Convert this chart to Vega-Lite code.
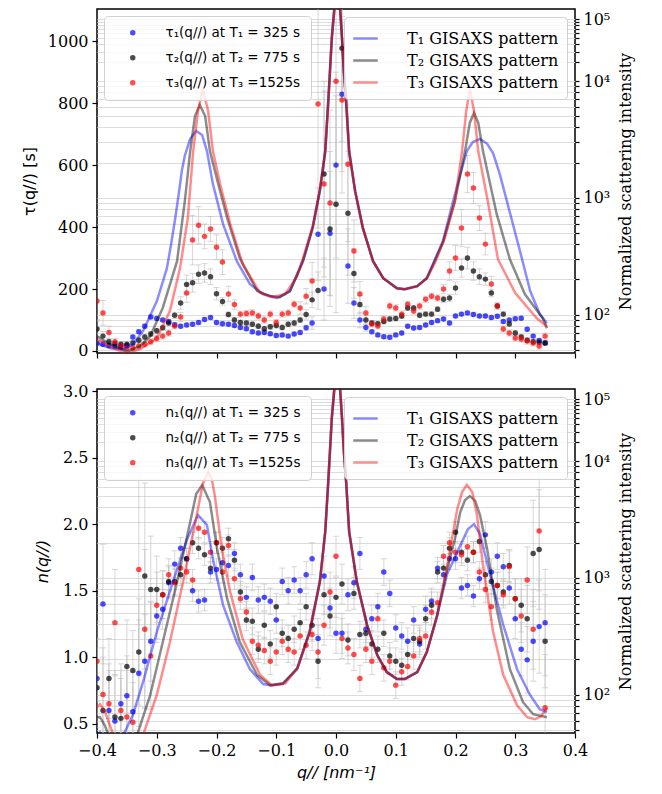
{
"$schema":"https://vega.github.io/schema/vega-lite/v6.json",
"padding":{"left":20,"top":8,"right":5,"bottom":5},
"spacing":22,
"config":{
 "view":{"stroke":"#000000","strokeWidth":1.5},
 "axis":{"labelFont":"DejaVu Serif","labelFontSize":16,"labelColor":"#000000","tickColor":"#000000","tickSize":5,"tickWidth":1.2,"domain":false,"grid":false,"titleFont":"DejaVu Sans","titleFontSize":16,"titleFontWeight":"normal","titleColor":"#000000","labelPadding":4,"labelFlush":false}
},
"datasets":{
"tau":[
{"q":-0.4,"s":"1","v":25,"e":8},{"q":-0.39,"s":"1","v":22,"e":8},{"q":-0.38,"s":"1","v":18,"e":6},{"q":-0.37,"s":"1","v":15,"e":6},{"q":-0.36,"s":"1","v":14,"e":6},{"q":-0.35,"s":"1","v":18,"e":6},{"q":-0.34,"s":"1","v":45,"e":6},{"q":-0.33,"s":"1","v":62,"e":6},{"q":-0.32,"s":"1","v":80,"e":6},{"q":-0.31,"s":"1","v":110,"e":6},{"q":-0.3,"s":"1","v":105,"e":6},{"q":-0.29,"s":"1","v":100,"e":6},{"q":-0.28,"s":"1","v":95,"e":6},{"q":-0.27,"s":"1","v":85,"e":6},{"q":-0.26,"s":"1","v":80,"e":6},{"q":-0.25,"s":"1","v":84,"e":6},{"q":-0.24,"s":"1","v":86,"e":6},{"q":-0.23,"s":"1","v":92,"e":6},{"q":-0.22,"s":"1","v":102,"e":6},{"q":-0.21,"s":"1","v":108,"e":6},{"q":-0.2,"s":"1","v":92,"e":6},{"q":-0.19,"s":"1","v":88,"e":6},{"q":-0.18,"s":"1","v":86,"e":6},{"q":-0.17,"s":"1","v":82,"e":6},{"q":-0.16,"s":"1","v":76,"e":6},{"q":-0.15,"s":"1","v":72,"e":6},{"q":-0.14,"s":"1","v":62,"e":6},{"q":-0.13,"s":"1","v":58,"e":6},{"q":-0.12,"s":"1","v":60,"e":6},{"q":-0.11,"s":"1","v":56,"e":6},{"q":-0.1,"s":"1","v":50,"e":6},{"q":-0.09,"s":"1","v":52,"e":6},{"q":-0.08,"s":"1","v":48,"e":6},{"q":-0.07,"s":"1","v":55,"e":6},{"q":-0.06,"s":"1","v":60,"e":6},{"q":-0.05,"s":"1","v":75,"e":8},{"q":-0.04,"s":"1","v":90,"e":20},{"q":-0.03,"s":"1","v":377,"e":150},{"q":-0.02,"s":"1","v":200,"e":100},{"q":-0.01,"s":"1","v":380,"e":200},{"q":0,"s":"1","v":600,"e":300},{"q":0.01,"s":"1","v":829,"e":250},{"q":0.02,"s":"1","v":274,"e":120},{"q":0.03,"s":"1","v":155,"e":50},{"q":0.04,"s":"1","v":100,"e":25},{"q":0.05,"s":"1","v":76,"e":12},{"q":0.06,"s":"1","v":62,"e":6},{"q":0.07,"s":"1","v":52,"e":6},{"q":0.08,"s":"1","v":46,"e":6},{"q":0.09,"s":"1","v":44,"e":6},{"q":0.1,"s":"1","v":52,"e":6},{"q":0.11,"s":"1","v":58,"e":6},{"q":0.12,"s":"1","v":80,"e":6},{"q":0.13,"s":"1","v":74,"e":6},{"q":0.14,"s":"1","v":76,"e":6},{"q":0.15,"s":"1","v":84,"e":6},{"q":0.16,"s":"1","v":92,"e":6},{"q":0.17,"s":"1","v":98,"e":6},{"q":0.18,"s":"1","v":103,"e":6},{"q":0.19,"s":"1","v":90,"e":6},{"q":0.2,"s":"1","v":113,"e":6},{"q":0.21,"s":"1","v":119,"e":6},{"q":0.22,"s":"1","v":123,"e":6},{"q":0.23,"s":"1","v":118,"e":6},{"q":0.24,"s":"1","v":113,"e":6},{"q":0.25,"s":"1","v":113,"e":6},{"q":0.26,"s":"1","v":108,"e":6},{"q":0.27,"s":"1","v":112,"e":6},{"q":0.28,"s":"1","v":95,"e":6},{"q":0.29,"s":"1","v":100,"e":6},{"q":0.3,"s":"1","v":104,"e":6},{"q":0.31,"s":"1","v":106,"e":6},{"q":0.32,"s":"1","v":70,"e":6},{"q":0.33,"s":"1","v":48,"e":6},{"q":0.34,"s":"1","v":34,"e":6},{"q":0.35,"s":"1","v":26,"e":6},
{"q":-0.4,"s":"2","v":71,"e":25},{"q":-0.39,"s":"2","v":48,"e":15},{"q":-0.38,"s":"2","v":30,"e":8},{"q":-0.37,"s":"2","v":24,"e":8},{"q":-0.36,"s":"2","v":22,"e":8},{"q":-0.35,"s":"2","v":22,"e":8},{"q":-0.34,"s":"2","v":26,"e":8},{"q":-0.33,"s":"2","v":35,"e":8},{"q":-0.32,"s":"2","v":45,"e":8},{"q":-0.31,"s":"2","v":55,"e":8},{"q":-0.3,"s":"2","v":65,"e":8},{"q":-0.29,"s":"2","v":75,"e":8},{"q":-0.28,"s":"2","v":90,"e":8},{"q":-0.27,"s":"2","v":115,"e":10},{"q":-0.26,"s":"2","v":155,"e":20},{"q":-0.25,"s":"2","v":215,"e":30},{"q":-0.24,"s":"2","v":220,"e":30},{"q":-0.23,"s":"2","v":248,"e":30},{"q":-0.22,"s":"2","v":252,"e":30},{"q":-0.21,"s":"2","v":240,"e":25},{"q":-0.2,"s":"2","v":185,"e":20},{"q":-0.19,"s":"2","v":160,"e":12},{"q":-0.18,"s":"2","v":118,"e":8},{"q":-0.17,"s":"2","v":100,"e":8},{"q":-0.16,"s":"2","v":92,"e":8},{"q":-0.15,"s":"2","v":90,"e":8},{"q":-0.14,"s":"2","v":86,"e":8},{"q":-0.13,"s":"2","v":80,"e":8},{"q":-0.12,"s":"2","v":72,"e":8},{"q":-0.11,"s":"2","v":78,"e":8},{"q":-0.1,"s":"2","v":82,"e":8},{"q":-0.09,"s":"2","v":76,"e":8},{"q":-0.08,"s":"2","v":86,"e":8},{"q":-0.07,"s":"2","v":90,"e":8},{"q":-0.06,"s":"2","v":100,"e":8},{"q":-0.05,"s":"2","v":118,"e":15},{"q":-0.04,"s":"2","v":165,"e":25},{"q":-0.03,"s":"2","v":195,"e":60},{"q":-0.02,"s":"2","v":571,"e":300},{"q":-0.01,"s":"2","v":394,"e":250},{"q":0,"s":"2","v":474,"e":350},{"q":0.01,"s":"2","v":977,"e":300},{"q":0.02,"s":"2","v":445,"e":200},{"q":0.03,"s":"2","v":250,"e":80},{"q":0.04,"s":"2","v":150,"e":30},{"q":0.05,"s":"2","v":100,"e":15},{"q":0.06,"s":"2","v":90,"e":8},{"q":0.07,"s":"2","v":88,"e":8},{"q":0.08,"s":"2","v":95,"e":8},{"q":0.09,"s":"2","v":103,"e":8},{"q":0.1,"s":"2","v":105,"e":8},{"q":0.11,"s":"2","v":113,"e":8},{"q":0.12,"s":"2","v":139,"e":8},{"q":0.13,"s":"2","v":139,"e":8},{"q":0.14,"s":"2","v":115,"e":8},{"q":0.15,"s":"2","v":119,"e":8},{"q":0.16,"s":"2","v":119,"e":8},{"q":0.17,"s":"2","v":135,"e":8},{"q":0.18,"s":"2","v":167,"e":10},{"q":0.19,"s":"2","v":171,"e":12},{"q":0.2,"s":"2","v":203,"e":20},{"q":0.21,"s":"2","v":268,"e":30},{"q":0.22,"s":"2","v":300,"e":35},{"q":0.23,"s":"2","v":258,"e":30},{"q":0.24,"s":"2","v":240,"e":25},{"q":0.25,"s":"2","v":232,"e":20},{"q":0.26,"s":"2","v":187,"e":12},{"q":0.27,"s":"2","v":145,"e":10},{"q":0.28,"s":"2","v":119,"e":8},{"q":0.29,"s":"2","v":87,"e":8},{"q":0.3,"s":"2","v":58,"e":8},{"q":0.31,"s":"2","v":45,"e":8},{"q":0.32,"s":"2","v":35,"e":8},{"q":0.33,"s":"2","v":30,"e":8},{"q":0.34,"s":"2","v":28,"e":8},{"q":0.35,"s":"2","v":26,"e":8},
{"q":-0.4,"s":"3","v":161,"e":60},{"q":-0.39,"s":"3","v":123,"e":40},{"q":-0.38,"s":"3","v":60,"e":20},{"q":-0.37,"s":"3","v":30,"e":10},{"q":-0.36,"s":"3","v":15,"e":10},{"q":-0.35,"s":"3","v":10,"e":10},{"q":-0.34,"s":"3","v":10,"e":10},{"q":-0.33,"s":"3","v":16,"e":10},{"q":-0.32,"s":"3","v":22,"e":10},{"q":-0.31,"s":"3","v":30,"e":10},{"q":-0.3,"s":"3","v":40,"e":10},{"q":-0.29,"s":"3","v":48,"e":10},{"q":-0.28,"s":"3","v":58,"e":10},{"q":-0.27,"s":"3","v":81,"e":10},{"q":-0.26,"s":"3","v":110,"e":15},{"q":-0.25,"s":"3","v":187,"e":30},{"q":-0.24,"s":"3","v":358,"e":80},{"q":-0.23,"s":"3","v":406,"e":60},{"q":-0.22,"s":"3","v":370,"e":40},{"q":-0.21,"s":"3","v":394,"e":40},{"q":-0.2,"s":"3","v":335,"e":40},{"q":-0.19,"s":"3","v":287,"e":40},{"q":-0.18,"s":"3","v":184,"e":25},{"q":-0.17,"s":"3","v":150,"e":15},{"q":-0.16,"s":"3","v":119,"e":10},{"q":-0.15,"s":"3","v":121,"e":10},{"q":-0.14,"s":"3","v":123,"e":10},{"q":-0.13,"s":"3","v":113,"e":10},{"q":-0.12,"s":"3","v":100,"e":10},{"q":-0.11,"s":"3","v":119,"e":10},{"q":-0.1,"s":"3","v":92,"e":10},{"q":-0.09,"s":"3","v":119,"e":10},{"q":-0.08,"s":"3","v":123,"e":10},{"q":-0.07,"s":"3","v":151,"e":10},{"q":-0.06,"s":"3","v":139,"e":20},{"q":-0.05,"s":"3","v":177,"e":25},{"q":-0.04,"s":"3","v":226,"e":60},{"q":-0.03,"s":"3","v":797,"e":400},{"q":-0.02,"s":"3","v":539,"e":300},{"q":-0.01,"s":"3","v":478,"e":300},{"q":0,"s":"3","v":871,"e":400},{"q":0.01,"s":"3","v":810,"e":300},{"q":0.02,"s":"3","v":603,"e":250},{"q":0.03,"s":"3","v":323,"e":100},{"q":0.04,"s":"3","v":184,"e":40},{"q":0.05,"s":"3","v":123,"e":20},{"q":0.06,"s":"3","v":87,"e":10},{"q":0.07,"s":"3","v":81,"e":10},{"q":0.08,"s":"3","v":103,"e":10},{"q":0.09,"s":"3","v":145,"e":10},{"q":0.1,"s":"3","v":139,"e":10},{"q":0.11,"s":"3","v":119,"e":10},{"q":0.12,"s":"3","v":151,"e":10},{"q":0.13,"s":"3","v":129,"e":10},{"q":0.14,"s":"3","v":145,"e":10},{"q":0.15,"s":"3","v":167,"e":10},{"q":0.16,"s":"3","v":177,"e":10},{"q":0.17,"s":"3","v":171,"e":10},{"q":0.18,"s":"3","v":200,"e":15},{"q":0.19,"s":"3","v":258,"e":30},{"q":0.2,"s":"3","v":300,"e":40},{"q":0.21,"s":"3","v":397,"e":60},{"q":0.22,"s":"3","v":571,"e":60},{"q":0.23,"s":"3","v":526,"e":50},{"q":0.24,"s":"3","v":429,"e":40},{"q":0.25,"s":"3","v":345,"e":35},{"q":0.26,"s":"3","v":216,"e":25},{"q":0.27,"s":"3","v":145,"e":10},{"q":0.28,"s":"3","v":71,"e":10},{"q":0.29,"s":"3","v":58,"e":10},{"q":0.3,"s":"3","v":42,"e":10},{"q":0.31,"s":"3","v":39,"e":10},{"q":0.32,"s":"3","v":32,"e":10},{"q":0.33,"s":"3","v":26,"e":10},{"q":0.34,"s":"3","v":16,"e":10},{"q":0.35,"s":"3","v":48,"e":10}
],
"nq":[
{"q":-0.4,"s":"1","v":0.84,"e":0.3},{"q":-0.39,"s":"1","v":1.4,"e":0.45},{"q":-0.38,"s":"1","v":0.6,"e":0.3},{"q":-0.37,"s":"1","v":0.52,"e":0.35},{"q":-0.36,"s":"1","v":0.65,"e":0.3},{"q":-0.35,"s":"1","v":0.71,"e":0.3},{"q":-0.34,"s":"1","v":0.59,"e":0.3},{"q":-0.33,"s":"1","v":0.88,"e":0.4},{"q":-0.32,"s":"1","v":0.97,"e":0.35},{"q":-0.31,"s":"1","v":1.12,"e":0.3},{"q":-0.3,"s":"1","v":1.31,"e":0.2},{"q":-0.29,"s":"1","v":1.36,"e":0.15},{"q":-0.28,"s":"1","v":1.56,"e":0.12},{"q":-0.27,"s":"1","v":1.7,"e":0.1},{"q":-0.26,"s":"1","v":1.82,"e":0.08},{"q":-0.25,"s":"1","v":1.74,"e":0.08},{"q":-0.24,"s":"1","v":1.5,"e":0.08},{"q":-0.23,"s":"1","v":1.42,"e":0.08},{"q":-0.22,"s":"1","v":1.43,"e":0.08},{"q":-0.21,"s":"1","v":1.64,"e":0.08},{"q":-0.2,"s":"1","v":1.66,"e":0.08},{"q":-0.19,"s":"1","v":1.71,"e":0.08},{"q":-0.18,"s":"1","v":1.69,"e":0.08},{"q":-0.17,"s":"1","v":1.78,"e":0.08},{"q":-0.16,"s":"1","v":1.62,"e":0.08},{"q":-0.15,"s":"1","v":1.45,"e":0.08},{"q":-0.14,"s":"1","v":1.6,"e":0.1},{"q":-0.13,"s":"1","v":1.43,"e":0.1},{"q":-0.12,"s":"1","v":1.45,"e":0.1},{"q":-0.11,"s":"1","v":1.42,"e":0.1},{"q":-0.1,"s":"1","v":1.28,"e":0.1},{"q":-0.09,"s":"1","v":1.57,"e":0.1},{"q":-0.08,"s":"1","v":1.5,"e":0.1},{"q":-0.07,"s":"1","v":1.58,"e":0.1},{"q":-0.06,"s":"1","v":1.5,"e":0.1},{"q":-0.05,"s":"1","v":1.62,"e":0.1},{"q":-0.04,"s":"1","v":1.74,"e":0.12},{"q":-0.03,"s":"1","v":1.14,"e":0.15},{"q":-0.02,"s":"1","v":1.61,"e":0.15},{"q":-0.01,"s":"1","v":1.37,"e":0.15},{"q":0,"s":"1","v":1.18,"e":0.15},{"q":0.01,"s":"1","v":1.18,"e":0.15},{"q":0.02,"s":"1","v":1.47,"e":0.12},{"q":0.03,"s":"1","v":1.56,"e":0.12},{"q":0.04,"s":"1","v":1.78,"e":0.12},{"q":0.05,"s":"1","v":1.21,"e":0.1},{"q":0.06,"s":"1","v":1.29,"e":0.1},{"q":0.07,"s":"1","v":1.38,"e":0.1},{"q":0.08,"s":"1","v":1.64,"e":0.1},{"q":0.09,"s":"1","v":1.48,"e":0.1},{"q":0.1,"s":"1","v":1.22,"e":0.1},{"q":0.11,"s":"1","v":1.16,"e":0.1},{"q":0.12,"s":"1","v":1.12,"e":0.1},{"q":0.13,"s":"1","v":1.28,"e":0.1},{"q":0.14,"s":"1","v":1.1,"e":0.1},{"q":0.15,"s":"1","v":1.36,"e":0.1},{"q":0.16,"s":"1","v":1.42,"e":0.1},{"q":0.17,"s":"1","v":1.67,"e":0.08},{"q":0.18,"s":"1","v":1.62,"e":0.08},{"q":0.19,"s":"1","v":1.74,"e":0.08},{"q":0.2,"s":"1","v":1.74,"e":0.08},{"q":0.21,"s":"1","v":1.52,"e":0.08},{"q":0.22,"s":"1","v":1.54,"e":0.08},{"q":0.23,"s":"1","v":1.46,"e":0.08},{"q":0.24,"s":"1","v":1.59,"e":0.08},{"q":0.25,"s":"1","v":1.92,"e":0.1},{"q":0.26,"s":"1","v":1.64,"e":0.1},{"q":0.27,"s":"1","v":1.76,"e":0.1},{"q":0.28,"s":"1","v":1.68,"e":0.1},{"q":0.29,"s":"1","v":1.52,"e":0.12},{"q":0.3,"s":"1","v":1.29,"e":0.15},{"q":0.31,"s":"1","v":1.06,"e":0.2},{"q":0.32,"s":"1","v":0.98,"e":0.25},{"q":0.33,"s":"1","v":1.12,"e":0.3},{"q":0.34,"s":"1","v":1.23,"e":0.35},{"q":0.35,"s":"1","v":1.26,"e":0.4},
{"q":-0.4,"s":"2","v":0.77,"e":0.3},{"q":-0.39,"s":"2","v":0.6,"e":0.4},{"q":-0.38,"s":"2","v":0.84,"e":0.3},{"q":-0.37,"s":"2","v":0.55,"e":0.35},{"q":-0.36,"s":"2","v":0.54,"e":0.3},{"q":-0.35,"s":"2","v":0.93,"e":0.35},{"q":-0.34,"s":"2","v":0.9,"e":0.3},{"q":-0.33,"s":"2","v":1.04,"e":0.4},{"q":-0.32,"s":"2","v":1.61,"e":0.7},{"q":-0.31,"s":"2","v":1.51,"e":0.4},{"q":-0.3,"s":"2","v":1.51,"e":0.25},{"q":-0.29,"s":"2","v":1.47,"e":0.18},{"q":-0.28,"s":"2","v":1.57,"e":0.12},{"q":-0.27,"s":"2","v":1.57,"e":0.1},{"q":-0.26,"s":"2","v":1.62,"e":0.08},{"q":-0.25,"s":"2","v":1.74,"e":0.08},{"q":-0.24,"s":"2","v":1.86,"e":0.08},{"q":-0.23,"s":"2","v":1.82,"e":0.08},{"q":-0.22,"s":"2","v":1.77,"e":0.08},{"q":-0.21,"s":"2","v":1.67,"e":0.08},{"q":-0.2,"s":"2","v":1.86,"e":0.08},{"q":-0.19,"s":"2","v":1.82,"e":0.08},{"q":-0.18,"s":"2","v":1.89,"e":0.08},{"q":-0.17,"s":"2","v":1.73,"e":0.08},{"q":-0.16,"s":"2","v":1.49,"e":0.08},{"q":-0.15,"s":"2","v":1.28,"e":0.08},{"q":-0.14,"s":"2","v":1.27,"e":0.1},{"q":-0.13,"s":"2","v":1.06,"e":0.1},{"q":-0.12,"s":"2","v":1.24,"e":0.1},{"q":-0.11,"s":"2","v":1.1,"e":0.1},{"q":-0.1,"s":"2","v":1.38,"e":0.1},{"q":-0.09,"s":"2","v":1.18,"e":0.1},{"q":-0.08,"s":"2","v":1.14,"e":0.1},{"q":-0.07,"s":"2","v":1.21,"e":0.1},{"q":-0.06,"s":"2","v":1.26,"e":0.1},{"q":-0.05,"s":"2","v":1.38,"e":0.1},{"q":-0.04,"s":"2","v":1.24,"e":0.12},{"q":-0.03,"s":"2","v":0.97,"e":0.2},{"q":-0.02,"s":"2","v":1.47,"e":0.15},{"q":-0.01,"s":"2","v":1.31,"e":0.15},{"q":0,"s":"2","v":1.45,"e":0.15},{"q":0.01,"s":"2","v":1.55,"e":0.15},{"q":0.02,"s":"2","v":1.13,"e":0.12},{"q":0.03,"s":"2","v":1.48,"e":0.12},{"q":0.04,"s":"2","v":1.17,"e":0.1},{"q":0.05,"s":"2","v":1.18,"e":0.1},{"q":0.06,"s":"2","v":1.1,"e":0.1},{"q":0.07,"s":"2","v":1.06,"e":0.1},{"q":0.08,"s":"2","v":1.18,"e":0.1},{"q":0.09,"s":"2","v":1.01,"e":0.1},{"q":0.1,"s":"2","v":0.97,"e":0.1},{"q":0.11,"s":"2","v":0.94,"e":0.1},{"q":0.12,"s":"2","v":1.02,"e":0.1},{"q":0.13,"s":"2","v":1.14,"e":0.1},{"q":0.14,"s":"2","v":1.12,"e":0.1},{"q":0.15,"s":"2","v":1.29,"e":0.1},{"q":0.16,"s":"2","v":1.39,"e":0.1},{"q":0.17,"s":"2","v":1.64,"e":0.08},{"q":0.18,"s":"2","v":1.67,"e":0.08},{"q":0.19,"s":"2","v":1.82,"e":0.08},{"q":0.2,"s":"2","v":1.94,"e":0.08},{"q":0.21,"s":"2","v":1.79,"e":0.08},{"q":0.22,"s":"2","v":1.73,"e":0.08},{"q":0.23,"s":"2","v":1.79,"e":0.08},{"q":0.24,"s":"2","v":1.87,"e":0.08},{"q":0.25,"s":"2","v":1.62,"e":0.1},{"q":0.26,"s":"2","v":1.57,"e":0.1},{"q":0.27,"s":"2","v":1.54,"e":0.1},{"q":0.28,"s":"2","v":1.49,"e":0.1},{"q":0.29,"s":"2","v":1.69,"e":0.12},{"q":0.3,"s":"2","v":1.44,"e":0.15},{"q":0.31,"s":"2","v":1.39,"e":0.2},{"q":0.32,"s":"2","v":1.29,"e":0.25},{"q":0.33,"s":"2","v":1.78,"e":0.4},{"q":0.34,"s":"2","v":1.81,"e":0.45},{"q":0.35,"s":"2","v":1.12,"e":0.35},
{"q":-0.4,"s":"3","v":0.97,"e":0.3},{"q":-0.39,"s":"3","v":0.72,"e":0.35},{"q":-0.38,"s":"3","v":0.65,"e":0.3},{"q":-0.37,"s":"3","v":1.26,"e":0.4},{"q":-0.36,"s":"3","v":0.6,"e":0.3},{"q":-0.35,"s":"3","v":0.55,"e":0.35},{"q":-0.34,"s":"3","v":0.51,"e":0.3},{"q":-0.33,"s":"3","v":1.66,"e":0.8},{"q":-0.32,"s":"3","v":1.21,"e":0.6},{"q":-0.31,"s":"3","v":1.01,"e":0.4},{"q":-0.3,"s":"3","v":1.39,"e":0.25},{"q":-0.29,"s":"3","v":1.47,"e":0.18},{"q":-0.28,"s":"3","v":1.62,"e":0.12},{"q":-0.27,"s":"3","v":1.56,"e":0.1},{"q":-0.26,"s":"3","v":1.67,"e":0.08},{"q":-0.25,"s":"3","v":1.64,"e":0.08},{"q":-0.24,"s":"3","v":1.58,"e":0.08},{"q":-0.23,"s":"3","v":1.97,"e":0.08},{"q":-0.22,"s":"3","v":1.94,"e":0.08},{"q":-0.21,"s":"3","v":1.79,"e":0.08},{"q":-0.2,"s":"3","v":1.86,"e":0.08},{"q":-0.19,"s":"3","v":1.64,"e":0.08},{"q":-0.18,"s":"3","v":1.84,"e":0.08},{"q":-0.17,"s":"3","v":1.59,"e":0.08},{"q":-0.16,"s":"3","v":1.44,"e":0.08},{"q":-0.15,"s":"3","v":1.34,"e":0.08},{"q":-0.14,"s":"3","v":1.12,"e":0.1},{"q":-0.13,"s":"3","v":1.09,"e":0.1},{"q":-0.12,"s":"3","v":1.05,"e":0.1},{"q":-0.11,"s":"3","v":0.97,"e":0.1},{"q":-0.1,"s":"3","v":1.04,"e":0.1},{"q":-0.09,"s":"3","v":1.12,"e":0.1},{"q":-0.08,"s":"3","v":1.06,"e":0.1},{"q":-0.07,"s":"3","v":1.04,"e":0.1},{"q":-0.06,"s":"3","v":1.16,"e":0.1},{"q":-0.05,"s":"3","v":1.09,"e":0.1},{"q":-0.04,"s":"3","v":1.17,"e":0.12},{"q":-0.03,"s":"3","v":1.04,"e":0.2},{"q":-0.02,"s":"3","v":1.24,"e":0.15},{"q":-0.01,"s":"3","v":1.49,"e":0.15},{"q":0,"s":"3","v":1.76,"e":0.15},{"q":0.01,"s":"3","v":1.14,"e":0.15},{"q":0.02,"s":"3","v":1.07,"e":0.12},{"q":0.03,"s":"3","v":1.02,"e":0.12},{"q":0.04,"s":"3","v":0.84,"e":0.1},{"q":0.05,"s":"3","v":1.06,"e":0.1},{"q":0.06,"s":"3","v":0.97,"e":0.1},{"q":0.07,"s":"3","v":1.29,"e":0.1},{"q":0.08,"s":"3","v":0.92,"e":0.1},{"q":0.09,"s":"3","v":0.97,"e":0.1},{"q":0.1,"s":"3","v":0.79,"e":0.1},{"q":0.11,"s":"3","v":0.89,"e":0.1},{"q":0.12,"s":"3","v":0.93,"e":0.1},{"q":0.13,"s":"3","v":1.01,"e":0.1},{"q":0.14,"s":"3","v":1.14,"e":0.1},{"q":0.15,"s":"3","v":1.16,"e":0.1},{"q":0.16,"s":"3","v":1.34,"e":0.1},{"q":0.17,"s":"3","v":1.41,"e":0.08},{"q":0.18,"s":"3","v":1.76,"e":0.08},{"q":0.19,"s":"3","v":1.86,"e":0.08},{"q":0.2,"s":"3","v":1.79,"e":0.08},{"q":0.21,"s":"3","v":1.77,"e":0.08},{"q":0.22,"s":"3","v":1.83,"e":0.08},{"q":0.23,"s":"3","v":1.79,"e":0.08},{"q":0.24,"s":"3","v":1.64,"e":0.08},{"q":0.25,"s":"3","v":1.51,"e":0.1},{"q":0.26,"s":"3","v":1.38,"e":0.1},{"q":0.27,"s":"3","v":1.54,"e":0.1},{"q":0.28,"s":"3","v":1.47,"e":0.1},{"q":0.29,"s":"3","v":1.68,"e":0.12},{"q":0.3,"s":"3","v":1.44,"e":0.15},{"q":0.31,"s":"3","v":1.31,"e":0.2},{"q":0.32,"s":"3","v":1.58,"e":0.25},{"q":0.33,"s":"3","v":1.21,"e":0.3},{"q":0.34,"s":"3","v":1.95,"e":0.45},{"q":0.35,"s":"3","v":0.62,"e":0.4}
],
"ctop":[
{"q":-0.4,"s":"1","I":56.9},{"q":-0.378,"s":"1","I":51.5},{"q":-0.356,"s":"1","I":50.6},{"q":-0.34,"s":"1","I":55.7},{"q":-0.323,"s":"1","I":72.1},{"q":-0.3,"s":"1","I":130},{"q":-0.29,"s":"1","I":190},{"q":-0.283,"s":"1","I":250},{"q":-0.276,"s":"1","I":400},{"q":-0.269,"s":"1","I":670},{"q":-0.263,"s":"1","I":1100},{"q":-0.258,"s":"1","I":1700},{"q":-0.253,"s":"1","I":2300},{"q":-0.244,"s":"1","I":3200},{"q":-0.234,"s":"1","I":3730},{"q":-0.224,"s":"1","I":3450},{"q":-0.216,"s":"1","I":2510},{"q":-0.206,"s":"1","I":1310},{"q":-0.189,"s":"1","I":595},{"q":-0.166,"s":"1","I":287},{"q":-0.144,"s":"1","I":182},{"q":-0.122,"s":"1","I":150},{"q":-0.11,"s":"1","I":144},{"q":-0.099,"s":"1","I":138},{"q":-0.077,"s":"1","I":159},{"q":-0.055,"s":"1","I":287},{"q":-0.039,"s":"1","I":550},{"q":-0.027,"s":"1","I":1140},{"q":-0.018,"s":"1","I":2500},{"q":-0.013,"s":"1","I":6600},{"q":-0.01,"s":"1","I":15000},{"q":-0.007,"s":"1","I":50000},{"q":-0.003,"s":"1","I":140000},{"q":0.002,"s":"1","I":250000},{"q":0.007,"s":"1","I":140000},{"q":0.01,"s":"1","I":50000},{"q":0.013,"s":"1","I":15000},{"q":0.017,"s":"1","I":6600},{"q":0.022,"s":"1","I":2500},{"q":0.032,"s":"1","I":1140},{"q":0.045,"s":"1","I":550},{"q":0.062,"s":"1","I":287},{"q":0.079,"s":"1","I":205},{"q":0.102,"s":"1","I":168},{"q":0.115,"s":"1","I":165},{"q":0.136,"s":"1","I":175},{"q":0.152,"s":"1","I":205},{"q":0.162,"s":"1","I":270},{"q":0.179,"s":"1","I":426},{"q":0.196,"s":"1","I":937},{"q":0.211,"s":"1","I":1800},{"q":0.219,"s":"1","I":2510},{"q":0.229,"s":"1","I":3000},{"q":0.241,"s":"1","I":3190},{"q":0.253,"s":"1","I":2900},{"q":0.263,"s":"1","I":2400},{"q":0.274,"s":"1","I":1600},{"q":0.286,"s":"1","I":937},{"q":0.308,"s":"1","I":349},{"q":0.325,"s":"1","I":159},{"q":0.341,"s":"1","I":101},{"q":0.353,"s":"1","I":84.4},
{"q":-0.4,"s":"2","I":65.3},{"q":-0.378,"s":"2","I":55.7},{"q":-0.35,"s":"2","I":48.5},{"q":-0.328,"s":"2","I":53.6},{"q":-0.311,"s":"2","I":65.3},{"q":-0.29,"s":"2","I":114},{"q":-0.266,"s":"2","I":287},{"q":-0.253,"s":"2","I":937},{"q":-0.244,"s":"2","I":2510},{"q":-0.236,"s":"2","I":5010},{"q":-0.228,"s":"2","I":6230},{"q":-0.219,"s":"2","I":5010},{"q":-0.211,"s":"2","I":2510},{"q":-0.197,"s":"2","I":1310},{"q":-0.182,"s":"2","I":670},{"q":-0.161,"s":"2","I":304},{"q":-0.132,"s":"2","I":159},{"q":-0.11,"s":"2","I":144},{"q":-0.094,"s":"2","I":141},{"q":-0.077,"s":"2","I":159},{"q":-0.055,"s":"2","I":292},{"q":-0.039,"s":"2","I":560},{"q":-0.027,"s":"2","I":1160},{"q":-0.018,"s":"2","I":2500},{"q":-0.013,"s":"2","I":6600},{"q":-0.01,"s":"2","I":15000},{"q":-0.007,"s":"2","I":50000},{"q":-0.003,"s":"2","I":140000},{"q":0.002,"s":"2","I":250000},{"q":0.007,"s":"2","I":140000},{"q":0.01,"s":"2","I":50000},{"q":0.013,"s":"2","I":15000},{"q":0.017,"s":"2","I":6600},{"q":0.022,"s":"2","I":2500},{"q":0.032,"s":"2","I":1140},{"q":0.045,"s":"2","I":550},{"q":0.062,"s":"2","I":287},{"q":0.079,"s":"2","I":205},{"q":0.102,"s":"2","I":168},{"q":0.115,"s":"2","I":165},{"q":0.136,"s":"2","I":175},{"q":0.152,"s":"2","I":205},{"q":0.162,"s":"2","I":265},{"q":0.179,"s":"2","I":415},{"q":0.199,"s":"2","I":937},{"q":0.216,"s":"2","I":2510},{"q":0.224,"s":"2","I":4400},{"q":0.231,"s":"2","I":5320},{"q":0.238,"s":"2","I":4400},{"q":0.246,"s":"2","I":2510},{"q":0.269,"s":"2","I":724},{"q":0.291,"s":"2","I":298},{"q":0.316,"s":"2","I":150},{"q":0.346,"s":"2","I":93.1},{"q":0.353,"s":"2","I":76.4},
{"q":-0.4,"s":"3","I":61.5},{"q":-0.378,"s":"3","I":52.6},{"q":-0.35,"s":"3","I":46.7},{"q":-0.328,"s":"3","I":50.6},{"q":-0.3,"s":"3","I":62.8},{"q":-0.278,"s":"3","I":107},{"q":-0.261,"s":"3","I":250},{"q":-0.248,"s":"3","I":670},{"q":-0.239,"s":"3","I":2510},{"q":-0.231,"s":"3","I":5530},{"q":-0.223,"s":"3","I":8540},{"q":-0.214,"s":"3","I":5530},{"q":-0.206,"s":"3","I":2510},{"q":-0.194,"s":"3","I":1310},{"q":-0.177,"s":"3","I":595},{"q":-0.156,"s":"3","I":270},{"q":-0.127,"s":"3","I":153},{"q":-0.107,"s":"3","I":141},{"q":-0.085,"s":"3","I":150},{"q":-0.065,"s":"3","I":212},{"q":-0.049,"s":"3","I":386},{"q":-0.039,"s":"3","I":570},{"q":-0.027,"s":"3","I":1180},{"q":-0.018,"s":"3","I":2500},{"q":-0.013,"s":"3","I":6600},{"q":-0.01,"s":"3","I":15000},{"q":-0.007,"s":"3","I":50000},{"q":-0.003,"s":"3","I":140000},{"q":0.002,"s":"3","I":250000},{"q":0.007,"s":"3","I":140000},{"q":0.01,"s":"3","I":50000},{"q":0.013,"s":"3","I":15000},{"q":0.017,"s":"3","I":6600},{"q":0.022,"s":"3","I":2500},{"q":0.032,"s":"3","I":1140},{"q":0.045,"s":"3","I":550},{"q":0.062,"s":"3","I":287},{"q":0.079,"s":"3","I":205},{"q":0.102,"s":"3","I":168},{"q":0.115,"s":"3","I":165},{"q":0.136,"s":"3","I":175},{"q":0.152,"s":"3","I":205},{"q":0.166,"s":"3","I":280},{"q":0.182,"s":"3","I":450},{"q":0.199,"s":"3","I":937},{"q":0.211,"s":"3","I":2510},{"q":0.218,"s":"3","I":5530},{"q":0.224,"s":"3","I":8540},{"q":0.231,"s":"3","I":5530},{"q":0.238,"s":"3","I":2510},{"q":0.254,"s":"3","I":937},{"q":0.271,"s":"3","I":298},{"q":0.3,"s":"3","I":153},{"q":0.336,"s":"3","I":93.1},{"q":0.353,"s":"3","I":79.6}
],
"cbot":[
{"q":-0.4,"s":"1","I":44.9},{"q":-0.395,"s":"1","I":47.6},{"q":-0.387,"s":"1","I":41.5},{"q":-0.375,"s":"1","I":30.8},{"q":-0.365,"s":"1","I":34},{"q":-0.356,"s":"1","I":44.9},{"q":-0.34,"s":"1","I":66.7},{"q":-0.323,"s":"1","I":128},{"q":-0.3,"s":"1","I":343},{"q":-0.273,"s":"1","I":919},{"q":-0.249,"s":"1","I":2150},{"q":-0.231,"s":"1","I":3450},{"q":-0.216,"s":"1","I":2830},{"q":-0.206,"s":"1","I":1450},{"q":-0.189,"s":"1","I":584},{"q":-0.166,"s":"1","I":281},{"q":-0.144,"s":"1","I":165},{"q":-0.122,"s":"1","I":123},{"q":-0.11,"s":"1","I":120},{"q":-0.089,"s":"1","I":123},{"q":-0.065,"s":"1","I":165},{"q":-0.044,"s":"1","I":343},{"q":-0.027,"s":"1","I":919},{"q":-0.018,"s":"1","I":2460},{"q":-0.013,"s":"1","I":6600},{"q":-0.01,"s":"1","I":15000},{"q":-0.007,"s":"1","I":50000},{"q":-0.003,"s":"1","I":140000},{"q":0.002,"s":"1","I":250000},{"q":0.007,"s":"1","I":140000},{"q":0.01,"s":"1","I":50000},{"q":0.013,"s":"1","I":15000},{"q":0.017,"s":"1","I":6600},{"q":0.022,"s":"1","I":2460},{"q":0.035,"s":"1","I":919},{"q":0.052,"s":"1","I":394},{"q":0.069,"s":"1","I":218},{"q":0.085,"s":"1","I":156},{"q":0.102,"s":"1","I":136},{"q":0.115,"s":"1","I":136},{"q":0.136,"s":"1","I":156},{"q":0.152,"s":"1","I":231},{"q":0.169,"s":"1","I":470},{"q":0.186,"s":"1","I":1077},{"q":0.199,"s":"1","I":1500},{"q":0.213,"s":"1","I":2150},{"q":0.221,"s":"1","I":2620},{"q":0.231,"s":"1","I":2880},{"q":0.241,"s":"1","I":2370},{"q":0.258,"s":"1","I":1050},{"q":0.28,"s":"1","I":394},{"q":0.303,"s":"1","I":165},{"q":0.325,"s":"1","I":98.8},{"q":0.341,"s":"1","I":75},{"q":0.353,"s":"1","I":70.7},
{"q":-0.4,"s":"2","I":64},{"q":-0.395,"s":"2","I":64},{"q":-0.387,"s":"2","I":54.6},{"q":-0.378,"s":"2","I":41.5},{"q":-0.362,"s":"2","I":25.4},{"q":-0.345,"s":"2","I":34},{"q":-0.333,"s":"2","I":44.9},{"q":-0.311,"s":"2","I":98.8},{"q":-0.29,"s":"2","I":281},{"q":-0.266,"s":"2","I":919},{"q":-0.244,"s":"2","I":3000},{"q":-0.234,"s":"2","I":5210},{"q":-0.224,"s":"2","I":6230},{"q":-0.211,"s":"2","I":4450},{"q":-0.199,"s":"2","I":1760},{"q":-0.182,"s":"2","I":656},{"q":-0.161,"s":"2","I":281},{"q":-0.132,"s":"2","I":147},{"q":-0.11,"s":"2","I":120},{"q":-0.089,"s":"2","I":125},{"q":-0.065,"s":"2","I":168},{"q":-0.044,"s":"2","I":349},{"q":-0.027,"s":"2","I":937},{"q":-0.018,"s":"2","I":2500},{"q":-0.013,"s":"2","I":6600},{"q":-0.01,"s":"2","I":15000},{"q":-0.007,"s":"2","I":50000},{"q":-0.003,"s":"2","I":140000},{"q":0.002,"s":"2","I":250000},{"q":0.007,"s":"2","I":140000},{"q":0.01,"s":"2","I":50000},{"q":0.013,"s":"2","I":15000},{"q":0.017,"s":"2","I":6600},{"q":0.022,"s":"2","I":2500},{"q":0.035,"s":"2","I":919},{"q":0.052,"s":"2","I":394},{"q":0.069,"s":"2","I":218},{"q":0.085,"s":"2","I":156},{"q":0.102,"s":"2","I":136},{"q":0.115,"s":"2","I":136},{"q":0.136,"s":"2","I":156},{"q":0.152,"s":"2","I":231},{"q":0.169,"s":"2","I":470},{"q":0.186,"s":"2","I":1190},{"q":0.199,"s":"2","I":2150},{"q":0.208,"s":"2","I":3660},{"q":0.216,"s":"2","I":4630},{"q":0.224,"s":"2","I":5010},{"q":0.233,"s":"2","I":4550},{"q":0.241,"s":"2","I":3450},{"q":0.253,"s":"2","I":1760},{"q":0.269,"s":"2","I":540},{"q":0.291,"s":"2","I":165},{"q":0.313,"s":"2","I":86.1},{"q":0.33,"s":"2","I":67.9},{"q":0.353,"s":"2","I":64},
{"q":-0.4,"s":"3","I":78},{"q":-0.395,"s":"3","I":82.8},{"q":-0.387,"s":"3","I":72.1},{"q":-0.373,"s":"3","I":45.8},{"q":-0.358,"s":"3","I":27.9},{"q":-0.34,"s":"3","I":30.8},{"q":-0.323,"s":"3","I":44.9},{"q":-0.3,"s":"3","I":98.8},{"q":-0.278,"s":"3","I":281},{"q":-0.256,"s":"3","I":919},{"q":-0.233,"s":"3","I":3450},{"q":-0.223,"s":"3","I":6330},{"q":-0.214,"s":"3","I":8050},{"q":-0.208,"s":"3","I":7010},{"q":-0.203,"s":"3","I":5110},{"q":-0.191,"s":"3","I":1760},{"q":-0.177,"s":"3","I":754},{"q":-0.156,"s":"3","I":298},{"q":-0.127,"s":"3","I":147},{"q":-0.107,"s":"3","I":120},{"q":-0.085,"s":"3","I":125},{"q":-0.064,"s":"3","I":171},{"q":-0.044,"s":"3","I":343},{"q":-0.027,"s":"3","I":919},{"q":-0.018,"s":"3","I":2500},{"q":-0.013,"s":"3","I":6600},{"q":-0.01,"s":"3","I":15000},{"q":-0.007,"s":"3","I":50000},{"q":-0.003,"s":"3","I":140000},{"q":0.002,"s":"3","I":250000},{"q":0.007,"s":"3","I":140000},{"q":0.01,"s":"3","I":50000},{"q":0.013,"s":"3","I":15000},{"q":0.017,"s":"3","I":6600},{"q":0.022,"s":"3","I":2500},{"q":0.035,"s":"3","I":919},{"q":0.052,"s":"3","I":394},{"q":0.069,"s":"3","I":218},{"q":0.085,"s":"3","I":156},{"q":0.102,"s":"3","I":136},{"q":0.115,"s":"3","I":136},{"q":0.136,"s":"3","I":156},{"q":0.152,"s":"3","I":231},{"q":0.169,"s":"3","I":470},{"q":0.186,"s":"3","I":1260},{"q":0.194,"s":"3","I":2150},{"q":0.203,"s":"3","I":3880},{"q":0.211,"s":"3","I":5420},{"q":0.219,"s":"3","I":6230},{"q":0.228,"s":"3","I":5420},{"q":0.236,"s":"3","I":3450},{"q":0.246,"s":"3","I":1280},{"q":0.263,"s":"3","I":343},{"q":0.28,"s":"3","I":147},{"q":0.303,"s":"3","I":81.1},{"q":0.32,"s":"3","I":64},{"q":0.333,"s":"3","I":61.5},{"q":0.343,"s":"3","I":65.3},{"q":0.353,"s":"3","I":76.4}
]
},
"vconcat":[
{
 "width":478,"height":344,
 "layer":[
  {"data":{"name":"tau"},
   "encoding":{
    "x":{"field":"q","type":"quantitative","scale":{"domain":[-0.4,0.4],"nice":false,"zero":false},"axis":{"values":[-0.4,-0.3,-0.2,-0.1,0,0.1,0.2,0.3,0.4],"labels":false,"title":null}},
    "y":{"field":"v","type":"quantitative","scale":{"domain":[-6.5,1104],"nice":false,"zero":false},"axis":{"values":[0,200,400,600,800,1000],"format":"d","title":"τ(q//) [s]","titleX":-60}}
   },
   "layer":[
    {"mark":{"type":"errorbar","ticks":{"size":6},"color":"#bdbdbd","opacity":0.6,"thickness":1,"clip":true},"encoding":{"yError":{"field":"e"}}},
    {"mark":{"type":"circle","size":30,"opacity":0.7,"clip":true},
     "encoding":{"fill":{"field":"s","type":"nominal","scale":{"domain":["1","2","3"],"range":["#0000ff","#000000","#ff0000"]},
      "legend":{"title":null,"orient":"top-left","offset":7,"labelExpr":"datum.label == '1' ? 'τ₁(q//) at T₁ = 325 s' : datum.label == '2' ? 'τ₂(q//) at T₂ = 775 s' : 'τ₃(q//) at T₃ =1525s'","labelFont":"DejaVu Sans","labelFontSize":13.5,"labelColor":"#000000","symbolType":"circle","symbolSize":30,"symbolOffset":12,"labelOffset":26,"padding":10,"rowPadding":10,"strokeColor":"#d0d0d0","fillColor":"rgba(255,255,255,0.8)","cornerRadius":4}}}}
   ]
  },
  {"data":{"name":"ctop"},
   "mark":{"type":"line","strokeWidth":2.5,"opacity":0.45,"clip":true},
   "encoding":{
    "x":{"field":"q","type":"quantitative","scale":{"domain":[-0.4,0.4],"nice":false,"zero":false},"axis":{"values":[-0.4,-0.3,-0.2,-0.1,0,0.1,0.2,0.3,0.4],"labels":false,"title":null}},
    "y":{"field":"I","type":"quantitative","scale":{"type":"log","domain":[46.9,10000,146800],"range":[344,72,0],"nice":false},
     "axis":{"orient":"right","values":[50,60,70,80,90,100,200,300,400,500,600,700,800,900,1000,2000,3000,4000,5000,6000,7000,8000,9000,10000,20000,30000,40000,50000,60000,70000,80000,90000,100000],"labelExpr":"datum.value == 100 ? '10²' : datum.value == 1000 ? '10³' : datum.value == 10000 ? '10⁴' : datum.value == 100000 ? '10⁵' : ''","labelOverlap":false,"labelBound":false,"grid":true,"gridColor":"#dcdcdc","gridWidth":1,"tickSize":4,"title":"Normalized scattering intensity","titleFont":"DejaVu Serif","titleAngle":270,"titleBaseline":"top","titlePadding":8}},
    "stroke":{"field":"s","type":"nominal","scale":{"domain":["1","2","3"],"range":["#0000ff","#000000","#ff0000"]},
     "legend":{"title":null,"orient":"top-right","offset":8,"labelExpr":"datum.label == '1' ? 'T₁ GISAXS pattern' : datum.label == '2' ? 'T₂ GISAXS pattern' : 'T₃ GISAXS pattern'","labelFont":"DejaVu Serif","labelFontSize":16,"labelColor":"#000000","symbolType":"stroke","symbolSize":600,"symbolStrokeWidth":2.5,"symbolOffset":0,"labelOffset":28,"padding":8,"rowPadding":0,"strokeColor":"#d0d0d0","fillColor":"rgba(255,255,255,0.8)","cornerRadius":4}}
   }
  }
 ],
 "resolve":{"scale":{"y":"independent"}}
},
{
 "width":478,"height":344,
 "layer":[
  {"data":{"name":"nq"},
   "encoding":{
    "x":{"field":"q","type":"quantitative","scale":{"domain":[-0.4,0.4],"nice":false,"zero":false},"axis":{"values":[-0.4,-0.3,-0.2,-0.1,0,0.1,0.2,0.3,0.4],"format":".1f","title":"q// [nm⁻¹]","titleFontStyle":"italic","titlePadding":6}},
    "y":{"field":"v","type":"quantitative","scale":{"domain":[0.43,3.017],"nice":false,"zero":false},"axis":{"values":[0.5,1,1.5,2,2.5,3],"format":".1f","title":"n(q//)","titleFontStyle":"italic","titleX":-47}}
   },
   "layer":[
    {"mark":{"type":"errorbar","ticks":{"size":6},"color":"#bdbdbd","opacity":0.6,"thickness":1,"clip":true},"encoding":{"yError":{"field":"e"}}},
    {"mark":{"type":"circle","size":30,"opacity":0.7,"clip":true},
     "encoding":{"fill":{"field":"s","type":"nominal","scale":{"domain":["1","2","3"],"range":["#0000ff","#000000","#ff0000"]},
      "legend":{"title":null,"orient":"top-left","offset":7,"labelExpr":"datum.label == '1' ? 'n₁(q//) at T₁ = 325 s' : datum.label == '2' ? 'n₂(q//) at T₂ = 775 s' : 'n₃(q//) at T₃ =1525s'","labelFont":"DejaVu Sans","labelFontSize":13.5,"labelColor":"#000000","symbolType":"circle","symbolSize":30,"symbolOffset":12,"labelOffset":26,"padding":10,"rowPadding":10,"strokeColor":"#d0d0d0","fillColor":"rgba(255,255,255,0.8)","cornerRadius":4}}}}
   ]
  },
  {"data":{"name":"cbot"},
   "mark":{"type":"line","strokeWidth":2.5,"opacity":0.45,"clip":true},
   "encoding":{
    "x":{"field":"q","type":"quantitative","scale":{"domain":[-0.4,0.4],"nice":false,"zero":false},"axis":{"values":[-0.4,-0.3,-0.2,-0.1,0,0.1,0.2,0.3,0.4],"format":".1f","title":"q// [nm⁻¹]","titleFontStyle":"italic","titlePadding":6}},
    "y":{"field":"I","type":"quantitative","scale":{"type":"log","domain":[46.9,10000,146800],"range":[344,72,0],"nice":false},
     "axis":{"orient":"right","values":[50,60,70,80,90,100,200,300,400,500,600,700,800,900,1000,2000,3000,4000,5000,6000,7000,8000,9000,10000,20000,30000,40000,50000,60000,70000,80000,90000,100000],"labelExpr":"datum.value == 100 ? '10²' : datum.value == 1000 ? '10³' : datum.value == 10000 ? '10⁴' : datum.value == 100000 ? '10⁵' : ''","labelOverlap":false,"labelBound":false,"grid":true,"gridColor":"#dcdcdc","gridWidth":1,"tickSize":4,"title":"Normalized scattering intensity","titleFont":"DejaVu Serif","titleAngle":270,"titleBaseline":"top","titlePadding":8}},
    "stroke":{"field":"s","type":"nominal","scale":{"domain":["1","2","3"],"range":["#0000ff","#000000","#ff0000"]},
     "legend":{"title":null,"orient":"top-right","offset":8,"labelExpr":"datum.label == '1' ? 'T₁ GISAXS pattern' : datum.label == '2' ? 'T₂ GISAXS pattern' : 'T₃ GISAXS pattern'","labelFont":"DejaVu Serif","labelFontSize":16,"labelColor":"#000000","symbolType":"stroke","symbolSize":600,"symbolStrokeWidth":2.5,"symbolOffset":0,"labelOffset":28,"padding":8,"rowPadding":0,"strokeColor":"#d0d0d0","fillColor":"rgba(255,255,255,0.8)","cornerRadius":4}}
   }
  }
 ],
 "resolve":{"scale":{"y":"independent"}}
}
],
"resolve":{"scale":{"fill":"independent","stroke":"independent"},"legend":{"fill":"independent","stroke":"independent"}}
}
